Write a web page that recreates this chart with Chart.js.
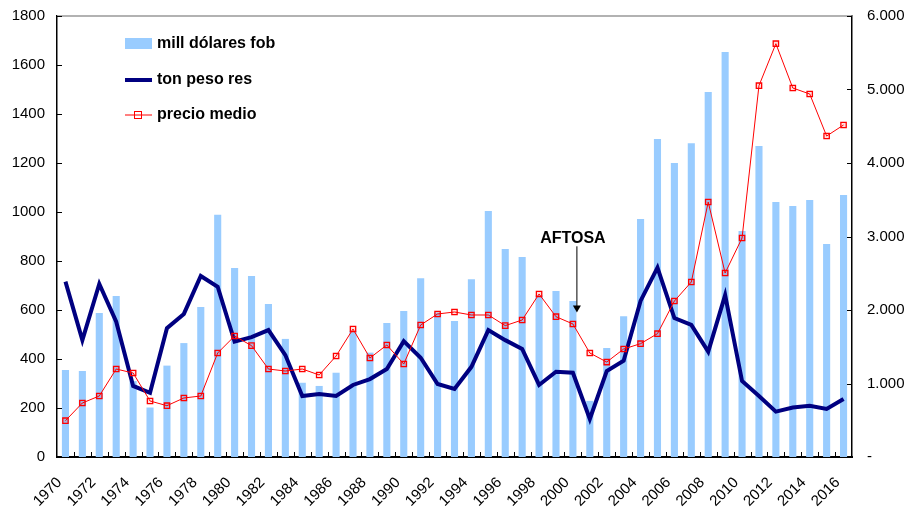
<!DOCTYPE html>
<html>
<head>
<meta charset="utf-8">
<script src="https://cdn.jsdelivr.net/npm/chart.js@4"></script>
<style>
  html, body { margin: 0; padding: 0; background: #fff; }
  #wrap { width: 911px; height: 514px; }
</style>
</head>
<body>
<div id="wrap"><canvas id="chart" width="911" height="514"></canvas></div>
<script>
const years = [];
for (let y = 1970; y <= 2016; y++) years.push(String(y));

// mill dólares fob
const millDolares = [355, 351, 588, 657, 310, 202, 373, 465, 612, 989,
    771, 739, 625, 482, 303, 290, 344, 515, 426, 547,
    596, 730, 590, 555, 726, 1004, 849, 816, 660, 678,
    637, 229, 445, 575, 971, 1298, 1200, 1281, 1490, 1653,
    922, 1269, 1041, 1024, 1049, 869, 1069];

// ton peso res (miles)
const tonPesoRes = [716, 477, 706, 552, 290, 262, 526, 584, 739, 695,
    471, 489, 518, 416, 249, 257, 249, 294, 318, 359,
    473, 405, 298, 278, 368, 518, 477, 441, 294, 348,
    344, 155, 351, 393, 637, 773, 567, 539, 430, 661,
    310, 249, 185, 202, 209, 196, 237];

// precio medio (eje derecho)
const precioMedio = [494, 735, 830, 1197, 1143, 762, 698, 803, 830, 1415,
    1646, 1515, 1197, 1170, 1197, 1116, 1374, 1741, 1347, 1524,
    1265, 1796, 1946, 1973, 1932, 1932, 1787, 1864, 2218, 1909,
    1810, 1415, 1292, 1469, 1542, 1678, 2122, 2381, 3469, 2503,
    2980, 5052, 5623, 5020, 4939, 4367, 4517];

const FONT = "'Liberation Sans', Arial, sans-serif";
const BLUE = "#99ccff", NAVY = "#000080", RED = "#ff0000";

// inward tick marks, top frame line
const frame = {
    id: "frame",
    afterDatasetsDraw(chart) {
        const ctx = chart.ctx;
        const a = chart.chartArea;
        const { x, y, y1 } = chart.scales;
        ctx.save();
        ctx.strokeStyle = "#999";
        ctx.lineWidth = 1.5;
        ctx.beginPath(); ctx.moveTo(a.left, a.top); ctx.lineTo(a.right, a.top); ctx.stroke();
        ctx.strokeStyle = "#000";
        ctx.lineWidth = 1;
        ctx.beginPath();
        y.ticks.forEach((t, i) => {
            const py = Math.round(y.getPixelForTick(i)) + 0.5;
            ctx.moveTo(a.left, py); ctx.lineTo(a.left + 5, py);
        });
        y1.ticks.forEach((t, i) => {
            const py = Math.round(y1.getPixelForTick(i)) + 0.5;
            ctx.moveTo(a.right - 5, py); ctx.lineTo(a.right, py);
        });
        const half = (x.getPixelForValue(1) - x.getPixelForValue(0)) / 2;
        for (let i = 1; i < years.length; i++) {
            const px = Math.round(x.getPixelForValue(i) - half) + 0.5;
            ctx.moveTo(px, a.bottom); ctx.lineTo(px, a.bottom - 5);
        }
        ctx.stroke();
        ctx.restore();
    }
};

// legend drawn inside the plot + AFTOSA note
const extras = {
    id: "extras",
    afterDraw(chart) {
        const ctx = chart.ctx;
        ctx.save();
        ctx.font = "bold 16px " + FONT;
        ctx.textBaseline = "middle";
        // legend
        ctx.fillStyle = BLUE;
        ctx.fillRect(125, 38, 27, 11);
        ctx.fillStyle = "#000";
        ctx.fillText("mill dólares fob", 157, 44);
        ctx.strokeStyle = NAVY;
        ctx.lineWidth = 4;
        ctx.beginPath(); ctx.moveTo(125, 80); ctx.lineTo(152, 80); ctx.stroke();
        ctx.fillText("ton peso res", 157, 80);
        ctx.strokeStyle = RED;
        ctx.lineWidth = 1;
        ctx.beginPath(); ctx.moveTo(125, 115); ctx.lineTo(152, 115); ctx.stroke();
        ctx.strokeRect(134.5, 111.5, 7, 7);
        ctx.fillText("precio medio", 157, 115);

        // AFTOSA arrow
        const x = chart.scales.x.getPixelForValue(30) + 4;
        const yTop = chart.scales.y.getPixelForValue(860);
        const yEnd = chart.scales.y.getPixelForValue(590);
        ctx.textAlign = "center";
        ctx.fillText("AFTOSA", x - 4, chart.scales.y.getPixelForValue(893));
        ctx.strokeStyle = "#000";
        ctx.lineWidth = 1;
        ctx.beginPath(); ctx.moveTo(x, yTop); ctx.lineTo(x, yEnd - 6); ctx.stroke();
        ctx.beginPath();
        ctx.moveTo(x - 4, yEnd - 7); ctx.lineTo(x + 4, yEnd - 7); ctx.lineTo(x, yEnd);
        ctx.closePath(); ctx.fillStyle = "#000"; ctx.fill();
        ctx.restore();
    }
};

const noGrid = { display: false, drawTicks: false };

function fixWidth(w) {
    return function (s) {
        s.width = w;
        s.paddingTop = 0;
        s.paddingBottom = 0;
    };
}

new Chart(document.getElementById("chart").getContext("2d"), {
    type: "bar",
    data: {
        labels: years,
        datasets: [
            {
                type: "line",
                label: "precio medio",
                data: precioMedio,
                yAxisID: "y1",
                borderColor: RED,
                borderWidth: 1,
                pointStyle: "rect",
                pointRadius: 3.8,
                pointBorderColor: RED,
                pointBackgroundColor: "rgba(255,0,0,0.12)",
                pointBorderWidth: 1.3,
                tension: 0,
                order: 1
            },
            {
                type: "line",
                label: "ton peso res",
                data: tonPesoRes,
                yAxisID: "y",
                borderColor: NAVY,
                borderWidth: 4,
                pointRadius: 0,
                tension: 0,
                order: 2
            },
            {
                label: "mill dólares fob",
                data: millDolares,
                yAxisID: "y",
                backgroundColor: BLUE,
                categoryPercentage: 1,
                barPercentage: 0.42,
                order: 3
            }
        ]
    },
    options: {
        responsive: false,
        animation: false,
        layout: { padding: { top: 16, right: 0, left: 0, bottom: 0 } },
        plugins: {
            legend: { display: false },
            tooltip: { enabled: false }
        },
        scales: {
            x: {
                grid: { ...noGrid, offset: true },
                border: { color: "#000", width: 2 },
                ticks: {
                    autoSkip: false,
                    maxRotation: 45,
                    minRotation: 45,
                    color: "#000",
                    font: { family: FONT, size: 15 },
                    padding: 11,
                    callback: function (v, i) { return i % 2 === 0 ? years[i] + "  " : ""; }
                },
                afterFit: function (s) { s.height = 57; }
            },
            y: {
                position: "left",
                min: 0,
                max: 1800,
                grid: noGrid,
                border: { color: "#000", width: 1.5 },
                ticks: {
                    stepSize: 200,
                    color: "#000",
                    font: { family: FONT, size: 15 },
                    padding: 12,
                    callback: function (v) { return String(v); }
                },
                afterFit: fixWidth(57)
            },
            y1: {
                position: "right",
                min: 0,
                max: 6000,
                grid: noGrid,
                border: { color: "#000", width: 1.5 },
                ticks: {
                    stepSize: 1000,
                    color: "#000",
                    font: { family: FONT, size: 15 },
                    padding: 15,
                    callback: function (v) { return v === 0 ? "-" : (v / 1000).toFixed(3); }
                },
                afterFit: fixWidth(59)
            }
        }
    },
    plugins: [frame, extras]
});
</script>
</body>
</html>
